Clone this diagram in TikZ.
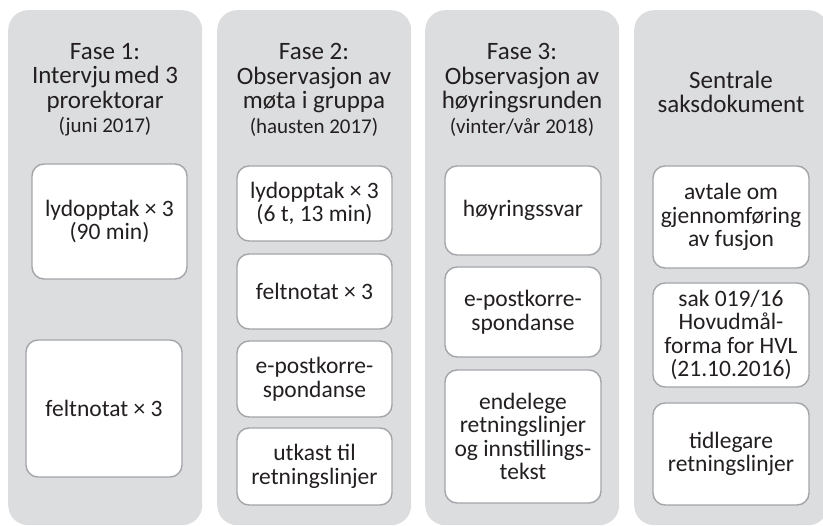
\documentclass[tikz,border=0pt]{standalone}
\usepackage{fontspec}
\setmainfont{Carlito}
\usetikzlibrary{positioning}
\definecolor{colgray}{HTML}{DCDDDF}
\definecolor{boxgray}{HTML}{A4A5A8}
\definecolor{txtgray}{HTML}{231F20}

\begin{document}
\begin{tikzpicture}
    [x=1pt,y=-1pt,every node/.style={inner sep=0pt,text=txtgray},
    phase/.style={fill=colgray,rounded corners=20pt,anchor=north west,
      minimum width=194pt,minimum height=515pt},
    head/.style={align=center,font=\fontsize{25}{24.5}\selectfont},
    src/.style={draw=boxgray,line width=1.4pt,fill=white,rounded
      corners=12pt,align=center,font=\fontsize{23.5}{23.5}\selectfont}]
    \useasboundingbox (0,0) rectangle (823,526);
    % columns
    \node[phase] (p1) at (8,10) {};
    \node[phase] (p2) at (217,10) {};
    \node[phase] (p3) at (425,10) {};
    \node[phase] (p4) at (634,10) {};
    % headings
    \node[head] (h1) at (105,90) {Fase 1:\\Intervju\hspace{0.12em}med 3\\prorektorar\\
      {\fontsize{21}{24.5}\selectfont (juni 2017)}};
    \node[head] (h2) at (314,90) {Fase 2:\\Observasjon av\\møta i gruppa\\
      {\fontsize{21}{24.5}\selectfont (hausten 2017)}};
    \node[head] (h3) at (522,90) {Fase 3:\\Observasjon av\\høyringsrunden\\
      {\fontsize{21}{24.5}\selectfont (vinter/vår 2018)}};
    \node[head] (h4) at (731,92) {Sentrale\\saksdokument};
    % fase 1
    \node[src,minimum width=155pt,minimum height=115pt] (a1) at (109.5,221.5)
      {lydopptak × 3\\(90 min)};
    \node[src,minimum width=156pt,minimum height=137pt] (a2) at (104,408.5)
      {feltnotat × 3};
    % fase 2
    \node[src,minimum width=155pt,minimum height=75pt] (b1) at (314.5,203.5)
      {lydopptak × 3\\(6 t, 13 min)};
    \node[src,minimum width=155pt,minimum height=75pt] (b2) at (314.5,291.5)
      {feltnotat × 3};
    \node[src,minimum width=155pt,minimum height=76pt] (b3) at (314.5,379)
      {e-postkorre-\\spondanse};
    \node[src,minimum width=155pt,minimum height=77pt] (b4) at (314.5,466.5)
      {utkast til\\retningslinjer};
    % fase 3
    \node[src,minimum width=156pt,minimum height=89pt] (c1) at (523,210.5)
      {høyringssvar};
    \node[src,minimum width=156pt,minimum height=90pt] (c2) at (523,312)
      {e-postkorre-\\spondanse};
    \node[src,minimum width=156pt,minimum height=133pt] (c3) at (523,436.5)
      {endelege\\retningslinjer\\og innstillings-\\tekst};
    % saksdokument
    \node[src,minimum width=156pt,minimum height=102pt] (d1) at (731,217)
      {avtale om\\gjennomføring\\av fusjon};
    \node[src,minimum width=156pt,minimum height=104pt] (d2) at (731,335)
      {sak 019/16\\Hovudmål-\\forma for HVL\\(21.10.2016)};
    \node[src,minimum width=156pt,minimum height=102pt] (d3) at (731,454)
      {tidlegare\\retningslinjer};
\end{tikzpicture}
\end{document}
